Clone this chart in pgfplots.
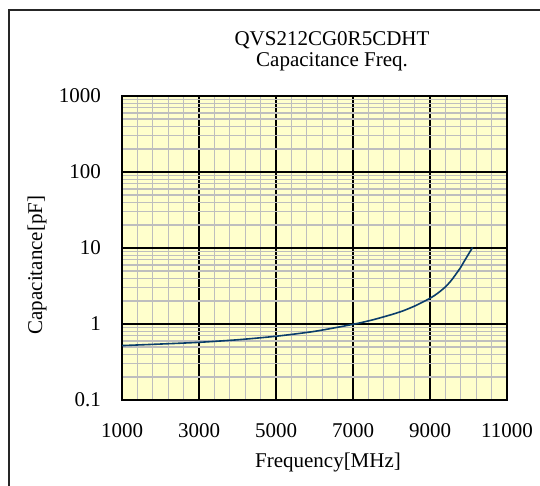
\documentclass[border=0pt]{standalone}
\usepackage{fontspec}
\setmainfont{Liberation Serif}
\usepackage{pgfplots}
\pgfplotsset{compat=1.18}
\definecolor{plotbg}{HTML}{FFFFCC}
\definecolor{minorgrid}{HTML}{BEBEBE}
\definecolor{curve}{HTML}{0A3D6B}

\begin{document}
\fontsize{21}{25}\selectfont
\begin{tikzpicture}[x=1pt,y=1pt]
\useasboundingbox (0,0) rectangle (540,-486);
\draw[line width=1.8pt,black!85] (9,-520) |- (560,-10);
\begin{axis}[
    at={(122pt,-400pt)}, anchor=south west,
    scale only axis, width=385pt, height=304pt,
    xmin=1000, xmax=11000,
    ymode=log, ymin=0.1, ymax=1000,
    scaled x ticks=false,
    xtick={1000,3000,5000,7000,9000,11000},
    xticklabels={1000,3000,5000,7000,9000,11000},
    minor x tick num=4,
    ytick={0.1,1,10,100,1000},
    yticklabels={0.1,1,10,100,1000},
    minor ytick={0.2,0.3,0.4,0.5,0.6,0.7,0.8,0.9,
                 2,3,4,5,6,7,8,9,
                 20,30,40,50,60,70,80,90,
                 200,300,400,500,600,700,800,900},
    grid=both,
    major grid style={black, line width=1.2pt},
    minor grid style={minorgrid, line width=1.3pt},
    axis line style={black, line width=1.5pt},
    axis background/.style={fill=plotbg},
    tick style={draw=none},
    /pgf/number format/assume math mode=true,
    ticklabel style={font=\fontsize{21}{25}\selectfont},
    xticklabel style={yshift=-16pt},
    yticklabel style={xshift=-14pt},
]
\addplot[curve, line width=1.6pt, mark=none, smooth, tension=0.4] coordinates {
    (1000,0.52)(2000,0.545)(3000,0.574)(4000,0.62)(5000,0.69)
    (6000,0.80)(7000,0.99)(7500,1.13)(8000,1.33)
    (8300,1.49)(8630,1.75)(9000,2.18)(9200,2.54)(9400,3.08)
    (9550,3.73)(9672,4.52)(9790,5.5)(9890,6.7)(10000,8.3)(10107,10.2)
};
\end{axis}
\node at (332,-40) {QVS212CG0R5CDHT};
\node at (332,-62) {Capacitance Freq.};
\node at (328,-462) {Frequency[MHz]};
\node[rotate=90] at (37,-265) {Capacitance[pF]};
\end{tikzpicture}
\end{document}
